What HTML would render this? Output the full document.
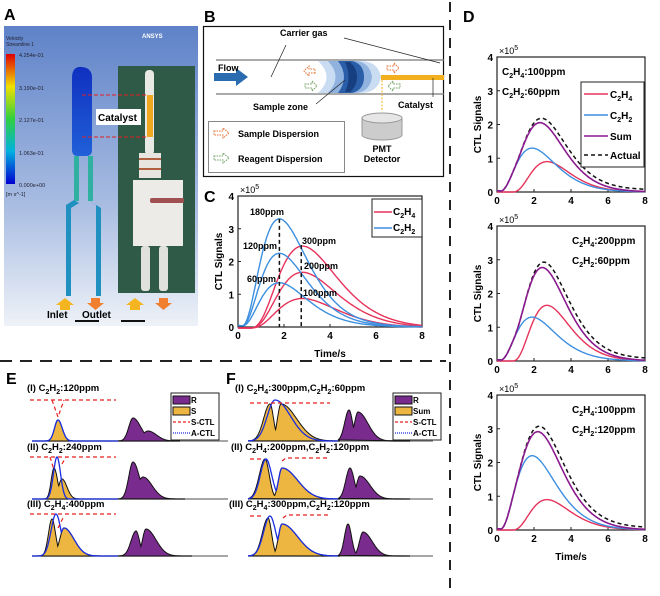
<!DOCTYPE html>
<html><head><meta charset="utf-8"><style>
body{margin:0;background:#fff;}
svg{display:block;font-family:"Liberation Sans",Arial,sans-serif;}
.b{font-weight:bold;}
</style></head><body>
<svg id="s" width="660" height="596" viewBox="0 0 660 596" xmlns="http://www.w3.org/2000/svg">
<defs>
<linearGradient id="bg" x1="0" y1="0" x2="0" y2="1"><stop offset="0" stop-color="#5e82c8"/><stop offset="0.6" stop-color="#a9bde2"/><stop offset="1" stop-color="#eef2f8"/></linearGradient>
<linearGradient id="cb" x1="0" y1="0" x2="0" y2="1"><stop offset="0" stop-color="#e00000"/><stop offset="0.25" stop-color="#f0e000"/><stop offset="0.5" stop-color="#30d040"/><stop offset="0.75" stop-color="#00b0e0"/><stop offset="1" stop-color="#0000d0"/></linearGradient>
<linearGradient id="tb" x1="0" y1="0" x2="0" y2="1"><stop offset="0" stop-color="#1030c0"/><stop offset="1" stop-color="#2060d8"/></linearGradient>
</defs>
<text x="4" y="20" font-size="16" class="b">A</text>
<rect x="4" y="26" width="194" height="300" fill="url(#bg)"/>
<text x="6" y="40" font-size="5" fill="#223">Velocity</text><text x="6" y="46" font-size="5" fill="#223">Streamline 1</text>
<rect x="6" y="54" width="9" height="130" fill="url(#cb)"/>
<g font-size="5.5" fill="#223"><text x="19" y="57">4.254e-01</text><text x="19" y="90">3.190e-01</text><text x="19" y="122">2.127e-01</text><text x="19" y="155">1.063e-01</text><text x="19" y="187">0.000e+00</text><text x="6" y="196">[m s^-1]</text></g>
<text x="142" y="38" font-size="6" fill="#fff" class="b">ANSYS</text>
<path d="M72,78 Q72,66 82,67 Q93,68 92,80 L92,150 Q92,156 86,156 L78,156 Q72,156 72,150Z" fill="url(#tb)"/>
<rect x="74" y="156" width="5" height="45" fill="#30b0a0"/><rect x="88" y="156" width="5" height="45" fill="#30b0a0"/>
<path d="M74,200 L66,205 L66,296 L71,296 L71,208 L79,203Z" fill="#2090c0"/>
<path d="M88,200 L96,205 L96,296 L101,296 L101,208 L93,203Z" fill="#2090c0"/>
<rect x="118" y="66" width="77" height="227" fill="#2f5a48"/>
<rect x="145" y="70" width="9" height="85" rx="4" fill="#e8e8e4"/>
<rect x="147" y="95" width="6" height="42" fill="#f0a820"/>
<rect x="139" y="153" width="22" height="25" fill="#e8e4e0"/>
<rect x="139" y="158" width="22" height="2" fill="#b06040"/><rect x="139" y="168" width="22" height="2" fill="#b06040"/>
<rect x="133" y="180" width="50" height="66" fill="#ecebe8"/>
<rect x="150" y="198" width="34" height="5" rx="2" fill="#a05050"/>
<rect x="141" y="246" width="9" height="45" rx="3" fill="#e0e0dc"/><rect x="159" y="246" width="9" height="45" rx="3" fill="#e0e0dc"/>
<line x1="82" y1="95" x2="147" y2="95" stroke="#e02020" stroke-dasharray="4,2"/>
<line x1="82" y1="137" x2="147" y2="137" stroke="#e02020" stroke-dasharray="4,2"/>
<rect x="96" y="109" width="45" height="16" fill="#fff"/>
<text x="98" y="121" font-size="10" class="b">Catalyst</text>
<g fill="#f5b520"><path d="M60,310 h10 v-5 h4 l-9,-7 l-9,7 h4z"/><path d="M130,310 h10 v-5 h4 l-9,-7 l-9,7 h4z"/></g>
<g fill="#f08030"><path d="M91,298 h9 v5 h4 l-8.5,7 l-8.5,-7 h4z"/><path d="M159,298 h9 v5 h4 l-8.5,7 l-8.5,-7 h4z"/></g>
<text x="47" y="318" font-size="10" class="b">Inlet</text><text x="82" y="318" font-size="10" class="b">Outlet</text>
<rect x="75" y="320" width="24" height="2" fill="#111"/><rect x="121" y="320" width="24" height="2" fill="#111"/>
<text x="204" y="22" font-size="16" class="b">B</text>
<rect x="203.5" y="26.5" width="240" height="150" fill="#fff" stroke="#111" stroke-width="1.2"/>
<line x1="216" y1="60" x2="444" y2="60" stroke="#777" stroke-width="1.2"/><line x1="216" y1="94" x2="444" y2="94" stroke="#777" stroke-width="1.2"/>
<path d="M214,73 h22 v-5 l12,9 l-12,9 v-5 h-22z" fill="#2b6cb0"/>
<text x="218" y="71" font-size="9" class="b">Flow</text>
<text x="280" y="36" font-size="9" class="b">Carrier gas</text>
<line x1="286" y1="45" x2="271" y2="77" stroke="#222" stroke-width="0.7"/><line x1="344" y1="38" x2="440" y2="63" stroke="#222" stroke-width="0.7"/>
<path d="M318,61 Q345,61 360,61 Q378,61 381,77 Q378,93 360,93 L318,93 Q335,77 318,61Z" fill="#c9dcf2"/>
<path d="M328,61 L355,61 Q370,62 372,77 Q370,92 355,93 L328,93 Q343,77 328,61Z" fill="#8fb2df"/>
<path d="M338,61 L352,61 Q364,64 364,77 Q364,90 352,93 L338,93 Q350,77 338,61Z" fill="#2a5ea8"/>
<path d="M345,62 L350,62 Q357,68 357,77 Q357,86 350,92 L345,92 Q352,77 345,62Z" fill="#173f80"/>
<rect x="381" y="75" width="63" height="5" fill="#f2b01e"/>
<path d="M305,69 h6 v-3 l5,5 l-5,5 v-3 h-6z" fill="none" stroke="#e07030" stroke-dasharray="1.5,1" transform="rotate(180 310 71)"/>
<path d="M387,66 h7 v-3 l5,5 l-5,5 v-3 h-7z" fill="none" stroke="#e07030" stroke-dasharray="1.5,1"/>
<path d="M305,84 h7 v-3 l5,5 l-5,5 v-3 h-7z" fill="none" stroke="#70a060" stroke-dasharray="1.5,1"/>
<path d="M400,84 h-7 v-3 l-5,5 l5,5 v-3 h7z" fill="none" stroke="#70a060" stroke-dasharray="1.5,1"/>
<text x="253" y="110" font-size="9" class="b">Sample zone</text>
<line x1="316" y1="104" x2="345" y2="80" stroke="#222" stroke-width="0.7"/>
<line x1="433" y1="78" x2="433" y2="97" stroke="#222" stroke-width="0.7"/>
<text x="398" y="108" font-size="9" class="b">Catalyst</text>
<line x1="382" y1="80" x2="382" y2="110" stroke="#f2b01e" stroke-dasharray="2,1.5"/>
<rect x="208.5" y="121.5" width="136" height="51" fill="#fff" stroke="#888"/>
<path d="M214,131 h9 v-3 l6,5 l-6,5 v-3 h-9z" fill="none" stroke="#e07030" stroke-dasharray="1.5,1"/>
<path d="M214,156 h9 v-3 l6,5 l-6,5 v-3 h-9z" fill="none" stroke="#70a060" stroke-dasharray="1.5,1"/>
<text x="238" y="137" font-size="9" class="b">Sample Dispersion</text>
<text x="238" y="162" font-size="9" class="b">Reagent Dispersion</text>
<path d="M362,118 v17 a20,5 0 0 0 40,0 v-17" fill="#ccc" stroke="#999"/><ellipse cx="382" cy="118" rx="20" ry="5" fill="#e6e6e6" stroke="#999"/>
<text x="382" y="152" font-size="9" class="b" text-anchor="middle">PMT</text><text x="382" y="162" font-size="9" class="b" text-anchor="middle">Detector</text>
<line x1="450" y1="2" x2="450" y2="596" stroke="#222" stroke-width="2" stroke-dasharray="10,8"/>
<line x1="0" y1="361" x2="446" y2="361" stroke="#222" stroke-width="2" stroke-dasharray="12,8"/>
<text x="204" y="202" font-size="16" class="b">C</text>
<text x="463" y="22" font-size="16" class="b">D</text>
<text x="6" y="384" font-size="16" class="b">E</text>
<text x="226" y="384" font-size="16" class="b">F</text>
<g id="dyn"></g>
</svg>
<script>
const NS="http://www.w3.org/2000/svg",D=document.getElementById("dyn");
function el(t,a,txt){const e=document.createElementNS(NS,t);for(const k in a)e.setAttribute(k,a[k]);if(txt!==undefined)e.innerHTML=txt;D.appendChild(e);return e;}
const g=(t,A,t0,tp,k)=>t<=t0?0:A*Math.pow((t-t0)/(tp-t0),k)*Math.exp(k*(1-(t-t0)/(tp-t0)));
function curve(f,X,Y,a,b,n){let d="";for(let i=0;i<=n;i++){const t=a+(b-a)*i/n;d+=(i?"L":"M")+X(t).toFixed(1)+","+Y(f(t)).toFixed(1);}return d;}
const C2H2="#3d8fe0",C2H4="#e6335a",SUM="#8a1a8e";
function axes(x0,y0,w,h,xt,xticks,yticks,ylab,xlab){
 el("rect",{x:x0,y:y0-h,width:w,height:h,fill:"none",stroke:"#222","stroke-width":1.2});
 xticks.forEach((v,i)=>{const x=x0+w*i/(xticks.length-1);el("text",{x:x,y:y0+12,"font-size":10,"text-anchor":"middle","font-weight":"bold"},v);el("line",{x1:x,y1:y0,x2:x,y2:y0-3,stroke:"#222"});});
 yticks.forEach((v,i)=>{const y=y0-h*i/(yticks.length-1);el("text",{x:x0-4,y:y+4,"font-size":10,"text-anchor":"end","font-weight":"bold"},v);el("line",{x1:x0,y1:y,x2:x0+3,y2:y,stroke:"#222"});});
 el("text",{x:x0+2,y:y0-h-3,"font-size":9},"×10<tspan dy='-4' font-size='7'>5</tspan>");
 if(ylab)el("text",{x:0,y:0,"font-size":10,"font-weight":"bold","text-anchor":"middle",transform:`translate(${x0-16},${y0-h/2}) rotate(-90)`},"CTL Signals");
 if(xlab)el("text",{x:x0+w/2,y:y0+30,"font-size":10,"font-weight":"bold","text-anchor":"middle"},"Time/s");
}
{const x0=238,y0=327,X=t=>x0+23*t,Y=v=>y0-32.75*v;
axes(x0,y0,184,131,0,["0","2","4","6","8"],["0","1","2","3","4"],1,1);
[0.9,1.7,2.5].forEach(A=>el("path",{d:curve(t=>g(t,A,0.5,2.8,3.2)-0.03,X,Y,0,8,200),fill:"none",stroke:C2H4,"stroke-width":1.4}));
[1.35,2.25,3.3].forEach(A=>el("path",{d:curve(t=>g(t,A,0.15,1.8,2.6)+0.05*Math.exp(-t*2),X,Y,0,8,200),fill:"none",stroke:C2H2,"stroke-width":1.4}));
el("line",{x1:X(1.8),y1:Y(3.3),x2:X(1.8),y2:y0,stroke:"#111","stroke-width":1.5,"stroke-dasharray":"4,3"});
el("line",{x1:X(2.75),y1:Y(2.5),x2:X(2.75),y2:y0,stroke:"#111","stroke-width":1.5,"stroke-dasharray":"4,3"});
[["180ppm",250,215],["120ppm",243,249],["60ppm",247,282],["300ppm",302,244],["200ppm",304,269],["100ppm",303,296]].forEach(a=>el("text",{x:a[1],y:a[2],"font-size":9,"font-weight":"bold"},a[0]));
el("rect",{x:372,y:199,width:50,height:38,fill:"#fff",stroke:"#222"});
el("line",{x1:374,y1:212,x2:392,y2:212,stroke:C2H4,"stroke-width":1.5});el("line",{x1:374,y1:228,x2:392,y2:228,stroke:C2H2,"stroke-width":1.5});
el("text",{x:393,y:215,"font-size":10,"font-weight":"bold"},"C<tspan font-size='7' dy='3'>2</tspan><tspan dy='-3'>H</tspan><tspan font-size='7' dy='3'>4</tspan>");
el("text",{x:393,y:231,"font-size":10,"font-weight":"bold"},"C<tspan font-size='7' dy='3'>2</tspan><tspan dy='-3'>H</tspan><tspan font-size='7' dy='3'>2</tspan>");}
function sub(t,a,b){return "C<tspan font-size='7' dy='3'>2</tspan><tspan dy='-3'>H</tspan><tspan font-size='7' dy='3'>"+a+"</tspan><tspan dy='-3'>"+b+"</tspan>";}
[[192,0.9,1.3,"4",":100ppm","2",":60ppm",0,1],[361,1.65,1.3,"4",":200ppm","2",":60ppm",1,0],[530,0.9,2.2,"4",":100ppm","2",":120ppm",1,0]].forEach((p,i)=>{
 const x0=497,y0=p[0],X=t=>x0+18.5*t,Y=v=>y0-33.75*v;
 axes(x0,y0,148,135,0,["0","2","4","6","8"],["0","1","2","3","4"],1,i==2);
 const f4=t=>g(t,p[1],0.8,2.7,3.2),f2=t=>g(t,p[2],0.15,1.9,2.6)+0.04*Math.exp(-2*t),fs=t=>f4(t)+f2(t);
 el("path",{d:curve(t=>fs(t*0.97)*1.04+0.06*Math.min(1,t/3),X,Y,0,8,200),fill:"none",stroke:"#111","stroke-width":1.5,"stroke-dasharray":"4,3"});
 el("path",{d:curve(f4,X,Y,0,8,200),fill:"none",stroke:C2H4,"stroke-width":1.4});
 el("path",{d:curve(f2,X,Y,0,8,200),fill:"none",stroke:C2H2,"stroke-width":1.4});
 el("path",{d:curve(fs,X,Y,0,8,200),fill:"none",stroke:SUM,"stroke-width":1.6});
 const tx=p[7]?572:502;
 el("text",{x:tx,y:y0-117,"font-size":10,"font-weight":"bold"},sub("",p[3],p[4]));
 el("text",{x:tx,y:y0-97,"font-size":10,"font-weight":"bold"},sub("",p[5],p[6]));
 if(p[8]){el("rect",{x:581,y:82,width:63,height:85,fill:"#fff",stroke:"#222"});
  [[C2H4,"4",97,0],[C2H2,"2",118,0],[SUM,"Sum",139,1],["#111","Actual",158,2]].forEach(q=>{
   el("line",{x1:584,y1:q[2]-3,x2:608,y2:q[2]-3,stroke:q[0],"stroke-width":1.5,"stroke-dasharray":q[3]==2?"4,3":"none"});
   el("text",{x:610,y:q[2]+1,"font-size":10,"font-weight":"bold"},q[3]?q[1]:sub("",q[1],""));});}
});
function peak(base,fy,fp,xs,xe,ye,ps,pe,blue,red){
 const X=x=>x,Yy=v=>base-v;
 el("line",{x1:xs,y1:base,x2:xe,y2:base,stroke:"#888","stroke-width":1.5});
 el("path",{d:curve(fy,X,Yy,xs,ye,200)+"Z",fill:"#ecb640",stroke:"#111","stroke-width":1});
 el("path",{d:curve(fp,X,Yy,ps,pe,200)+"Z",fill:"#7a2b8e",stroke:"#111","stroke-width":1});
 el("path",{d:curve(blue,X,Yy,xs,ps,200),fill:"none",stroke:"#1a2ee0","stroke-width":1.3});
 red.forEach(r=>el("path",{d:r,fill:"none",stroke:"#e82020","stroke-width":1.2,"stroke-dasharray":"4,3"}));
}
const S=(x,A,c,wl,wr)=>A*Math.exp(-Math.pow((x-c)/(x<c?wl:wr),2));
const mx=(...a)=>Math.max(...a);
// E
peak(441,x=>S(x,21,58,5,6),x=>mx(S(x,23,133,6,11),S(x,10,148,8,12)),32,228,90,118,180,x=>S(x,21,58,5,6),["M30,400 H116","M52,400 L58,417 L64,400"]);
peak(499,x=>mx(S(x,31,54,4,5),S(x,20,62,5,7)),x=>mx(S(x,37,133,6,9),S(x,22,143,8,13)),32,228,95,118,185,x=>S(x,42,57,5,5),["M30,457 H116","M50,457 L54,470","M62,464 L66,457"]);
peak(556,x=>mx(S(x,37,52,5,5),S(x,28,64,6,14)),x=>mx(S(x,25,136,7,5),S(x,27,146,5,14)),32,228,110,118,192,x=>mx(S(x,42,56,7,7),S(x,28,64,6,14)),["M30,514 H116","M58,528 L64,516"]);
el("text",{x:27,y:391,"font-size":9.5,"font-weight":"bold"},"(I) "+sub("","2",":120ppm"));
el("text",{x:27,y:450,"font-size":9.5,"font-weight":"bold"},"(II) "+sub("","2",":240ppm"));
el("text",{x:27,y:507,"font-size":9.5,"font-weight":"bold"},"(III) "+sub("","4",":400ppm"));
function leg(x,y,labs){el("rect",{x:x,y:y,width:48,height:47,fill:"#fff",stroke:"#222"});
 el("rect",{x:x+2,y:y+3,width:17,height:8,fill:"#7a2b8e",stroke:"#111"});el("rect",{x:x+2,y:y+14,width:17,height:8,fill:"#ecb640",stroke:"#111"});
 el("line",{x1:x+2,y1:y+29,x2:x+19,y2:y+29,stroke:"#e82020","stroke-dasharray":"3,2","stroke-width":1.2});el("line",{x1:x+2,y1:y+40,x2:x+19,y2:y+40,stroke:"#1a2ee0","stroke-dasharray":"1,1","stroke-width":1.2});
 labs.forEach((l,i)=>el("text",{x:x+20,y:y+10+i*11,"font-size":8,"font-weight":"bold"},l));}
leg(171,393,["R","S","S-CTL","A-CTL"]);
// F
peak(441,x=>mx(S(x,37,270,9,5),S(x,37,281,5,22)),x=>mx(S(x,31,349,6,5),S(x,29,358,5,14)),248,433,340,338,410,x=>S(x,41,275,11,22),["M250,403 H330"]);
peak(499,x=>mx(S(x,40,265,8,6),S(x,31,282,5,22)),x=>mx(S(x,31,350,6,6),S(x,23,360,5,14)),248,433,340,338,410,x=>mx(S(x,40,266,8,8),S(x,31,282,5,22)),["M250,459 H264","M282,461 L286,458 H330"]);
peak(556,x=>mx(S(x,38,268,8,5),S(x,32,282,5,22)),x=>mx(S(x,32,348,5,5),S(x,24,363,5,13)),248,433,340,338,410,x=>mx(S(x,40,270,9,8),S(x,32,282,5,22)),["M250,516 H264","M283,518 L287,515 H330"]);
el("text",{x:235,y:391,"font-size":9.5,"font-weight":"bold"},"(I) "+sub("","4",":300ppm,")+sub("","2",":60ppm"));
el("text",{x:231,y:450,"font-size":9.5,"font-weight":"bold"},"(II) "+sub("","4",":200ppm,")+sub("","2",":120ppm"));
el("text",{x:229,y:507,"font-size":9.5,"font-weight":"bold"},"(III) "+sub("","4",":300ppm,")+sub("","2",":120ppm"));
leg(393,393,["R","Sum","S-CTL","A-CTL"]);
</script>
</body></html>
